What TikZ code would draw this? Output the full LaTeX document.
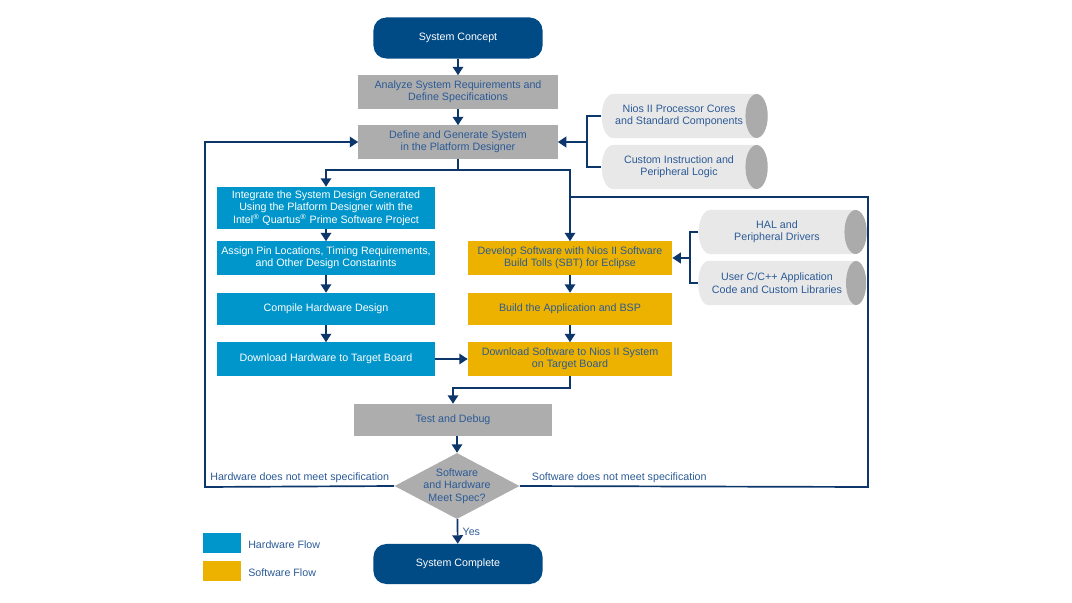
\documentclass[tikz,border=0pt]{standalone}
\usepackage{fontspec}
\setmainfont{Liberation Sans}
\usetikzlibrary{shapes.geometric,arrows.meta}

\definecolor{navy}{HTML}{004A86}
\definecolor{linenavy}{HTML}{0D376B}
\definecolor{txtblue}{HTML}{2B5A96}
\definecolor{boxgray}{HTML}{ADADAD}
\definecolor{hwblue}{HTML}{0096CB}
\definecolor{swgold}{HTML}{EDB200}
\definecolor{cylbody}{HTML}{E8E8E8}
\definecolor{cylend}{HTML}{ABABAB}

\tikzset{
    base/.style={font=\fontsize{7.6}{8.8}\selectfont, align=center, inner sep=0pt, text=txtblue},
    term/.style={base, rectangle, rounded corners=0.32cm, fill=navy, text=white,
        minimum width=4.225cm, minimum height=1.025cm},
    graybox/.style={base, fill=boxgray, minimum width=4.975cm, minimum height=0.825cm},
    hwbox/.style={base, fill=hwblue, text=white, minimum width=5.45cm, minimum height=0.825cm},
    swbox/.style={base, fill=swgold, minimum width=5.1cm, minimum height=0.825cm},
    % cylinder: width is across the axis, height along it
    lib/.style={base, cylinder, shape border rotate=0, shape aspect=1,
        cylinder uses custom fill, cylinder body fill=cylbody, cylinder end fill=cylend,
        minimum width=1.1cm, minimum height=4.15cm},
    decision/.style={diamond, fill=boxgray, minimum width=3.125cm, minimum height=1.65cm, inner sep=0pt},
    conn/.style={draw=linenavy, line width=1.2pt},
    arr/.style={conn, -{Triangle[width=7.5pt,length=6pt]}},
}

\begin{document}
\begin{tikzpicture}[x=0.025cm, y=-0.025cm]
    % \draw[lightgray] (0, 0) grid (1072, 603);
    \useasboundingbox (0, 0) rectangle (1072, 603);

    % main column
    \node[term] (sc) at (458, 38) {System Concept};
    \node[graybox] (ana) at (458, 92) {Analyze System Requirements and\\Define Specifications};
    \node[graybox] (def) at (458, 142) {Define and Generate System\\in the Platform Designer};

    % components
    \node[lib] (nios) at (679, 116) {Nios II Processor Cores\\and Standard Components};
    \node[lib] (cust) at (679, 167) {Custom Instruction and\\Peripheral Logic};
    \node[lib, minimum height=4.2cm] (hal) at (777, 232) {HAL and\\Peripheral Drivers};
    \node[lib, minimum height=4.2cm] (usr) at (777, 283) {User C/C++ Application\\Code and Custom Libraries};

    % hardware flow
    \node[hwbox, minimum height=1.05cm] (int) at (326, 208) {Integrate the System Design Generated\\Using the Platform Designer with the\\Intel\textsuperscript{\textregistered} Quartus\textsuperscript{\textregistered} Prime Software Project};
    \node[hwbox] (asg) at (326, 258) {Assign Pin Locations, Timing Requirements,\\and Other Design Constarints};
    \node[hwbox, minimum height=0.8cm] (cmp) at (326, 309) {Compile Hardware Design};
    \node[hwbox] (dhw) at (326, 359) {Download Hardware to Target Board};

    % software flow
    \node[swbox] (dev) at (570, 258) {Develop Software with Nios II Software\\Build Tolls (SBT) for Eclipse};
    \node[swbox, minimum height=0.8cm] (bld) at (570, 309) {Build the Application and BSP};
    \node[swbox] (dsw) at (570, 359) {Download Software to Nios II System\\on Target Board};

    % test
    \node[graybox, minimum width=4.95cm, minimum height=0.8cm] (test) at (453, 420) {Test and Debug};
    \node[decision] (dec) at (457, 486) {};
    \node[base] (dectxt) at (dec.center) {Software\\and Hardware\\Meet Spec?};
    \node[term, minimum height=1cm] (done) at (458, 564) {System Complete};

    % legend
    \node[fill=hwblue, minimum width=0.925cm, minimum height=0.5cm, inner sep=0pt] (hwkey) at (222, 543) {};
    \node[base, anchor=west] (hwtxt) at (248, 545) {Hardware Flow};
    \node[fill=swgold, minimum width=0.925cm, minimum height=0.5cm, inner sep=0pt] (swkey) at (222, 571) {};
    \node[base, anchor=west] (swtxt) at (248, 573) {Software Flow};

    \coordinate (split) at (458, 170);
    \coordinate (swj) at (570, 197);
    \coordinate (bk1) at (587, 142);
    \coordinate (bk2) at (690, 258);
    \coordinate (hwc) at (205, 487);
    \coordinate (swc) at (868, 487);

    \draw[arr] (sc) -- (ana);
    \draw[arr] (ana) -- (def);
    \draw[conn] (def) -- (split);
    \draw[arr] (split) -| (int);
    \draw[arr] (split) -| (dev);

    % brackets
    \draw[conn] (nios.west) -| (bk1) |- (cust.west);
    \draw[arr] (bk1) -- (def);
    \draw[conn] (hal.west) -| (bk2) |- (usr.west);
    \draw[arr] (bk2) -- (dev);

    \draw[arr] (int) -- (asg);
    \draw[arr] (asg) -- (cmp);
    \draw[arr] (cmp) -- (dhw);
    \draw[arr] (dev) -- (bld);
    \draw[arr] (bld) -- (dsw);
    \draw[arr] (dhw) -- (dsw);
    \draw[arr] (dsw.south) -- ++(0, 12) -| (test);
    \draw[arr] (dec.north |- test.south) -- (dec.north);
    \draw[arr] (dec) -- node[base, right, xshift=3pt] (yes) {Yes} (done);

    % loops back
    \draw[arr] (dec.west) -- node[base, pos=0, anchor=south east, yshift=2pt, xshift=-3pt] (hwno) {Hardware does not meet specification} (hwc) |- (def);
    \draw[conn] (dec.east) -- node[base, pos=0, anchor=south west, yshift=2pt, xshift=8pt] (swno) {Software does not meet specification} (swc) |- (swj);
\end{tikzpicture}
\end{document}
